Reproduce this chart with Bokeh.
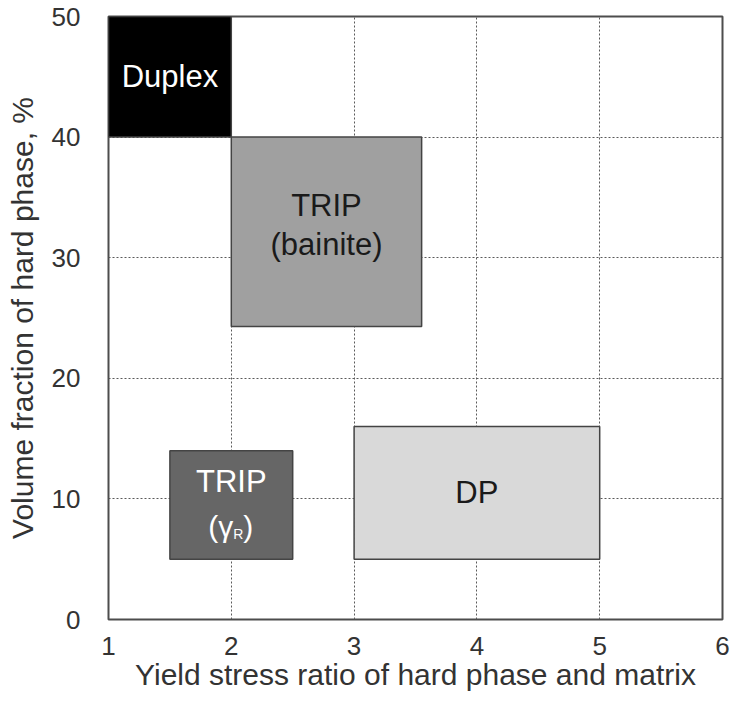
from bokeh.plotting import figure
from bokeh.models import ColumnDataSource, Range1d, FixedTicker
from bokeh.core.properties import value
from bokeh.embed import file_html
from bokeh.resources import INLINE

# ---- data ----
names = ["Duplex", "TRIP\n(bainite)", "TRIP", "DP"]
x_left = [1.0, 2.0, 1.5, 3.0]
x_right = [2.0, 3.55, 2.5, 5.0]
y_bottom = [40.0, 24.3, 5.0, 5.0]
y_top = [50.0, 40.0, 14.0, 16.0]
x_ticks = [1, 2, 3, 4, 5, 6]
y_ticks = [0, 10, 20, 30, 40, 50]
x_grid = [2, 3, 4, 5]
y_grid = [10, 20, 30, 40]

# ---- styles ----
fills = ["#000000", "#a0a0a0", "#666666", "#d9d9d9"]
text_colors = ["#ffffff", "#1a1a1a", "#ffffff", "#1a1a1a"]
label_dy = [0, -7, -23, 0]
FONT = value("Liberation Sans")

src = ColumnDataSource(dict(
    left=x_left, right=x_right, bottom=y_bottom, top=y_top,
    xc=[(a + b) / 2 for a, b in zip(x_left, x_right)],
    yc=[(a + b) / 2 for a, b in zip(y_bottom, y_top)],
    name=names, fill=fills, tc=text_colors, dy=label_dy,
))

p = figure(width=732, height=693,
           x_range=Range1d(1, 6), y_range=Range1d(0, 50),
           output_backend="svg", toolbar_location=None,
           min_border_left=108, min_border_right=10,
           min_border_top=16, min_border_bottom=70)

p.outline_line_color = "#4d4d4d"
p.outline_line_width = 2

for ax in (p.xaxis, p.yaxis):
    ax.axis_line_color = None
    ax.major_tick_line_color = None
    ax.minor_tick_line_color = None
    ax.major_label_text_font = "Liberation Sans"
    ax.major_label_text_font_size = "26px"
    ax.major_label_text_color = "#333333"
    ax.axis_label_text_font = "Liberation Sans"
    ax.axis_label_text_font_size = "30px"
    ax.axis_label_text_font_style = "normal"
    ax.axis_label_text_color = "#333333"

p.xaxis.ticker = FixedTicker(ticks=x_ticks)
p.yaxis.ticker = FixedTicker(ticks=y_ticks)
p.xaxis.major_label_standoff = 11
p.yaxis.major_label_standoff = 22
p.xaxis.axis_label = "Yield stress ratio of hard phase and matrix"
p.yaxis.axis_label = "Volume fraction of hard phase, %"
p.xaxis.axis_label_standoff = 0
p.yaxis.axis_label_standoff = 10

p.xgrid.ticker = FixedTicker(ticks=x_grid)
p.ygrid.ticker = FixedTicker(ticks=y_grid)
for g in (p.xgrid, p.ygrid):
    g.grid_line_color = "#5a5a5a"
    g.grid_line_dash = "2 2"
    g.grid_line_width = 1

p.quad(left="left", right="right", bottom="bottom", top="top", source=src,
       fill_color="fill", line_color="#444444", line_width=1.5)

p.text(x="xc", y="yc", text="name", source=src, text_color="tc",
       text_align="center", text_baseline="middle", text_font=FONT,
       text_font_size="31px", text_line_height=1.12, y_offset="dy")

# (gamma_R) label for the TRIP (gamma_R) box
gx = (x_left[2] + x_right[2]) / 2
gy = (y_bottom[2] + y_top[2]) / 2
p.text(x=[gx], y=[gy], text=["(γ"], text_color="#ffffff", text_align="right",
       text_baseline="middle", text_font=FONT, text_font_size="30px",
       x_offset=2, y_offset=22)
p.text(x=[gx], y=[gy], text=["R"], text_color="#ffffff", text_align="left",
       text_baseline="middle", text_font=FONT, text_font_size="14px",
       x_offset=2, y_offset=29)
p.text(x=[gx], y=[gy], text=[")"], text_color="#ffffff", text_align="left",
       text_baseline="middle", text_font=FONT, text_font_size="30px",
       x_offset=12, y_offset=22)

open("out.html", "w").write(file_html(p, INLINE))
